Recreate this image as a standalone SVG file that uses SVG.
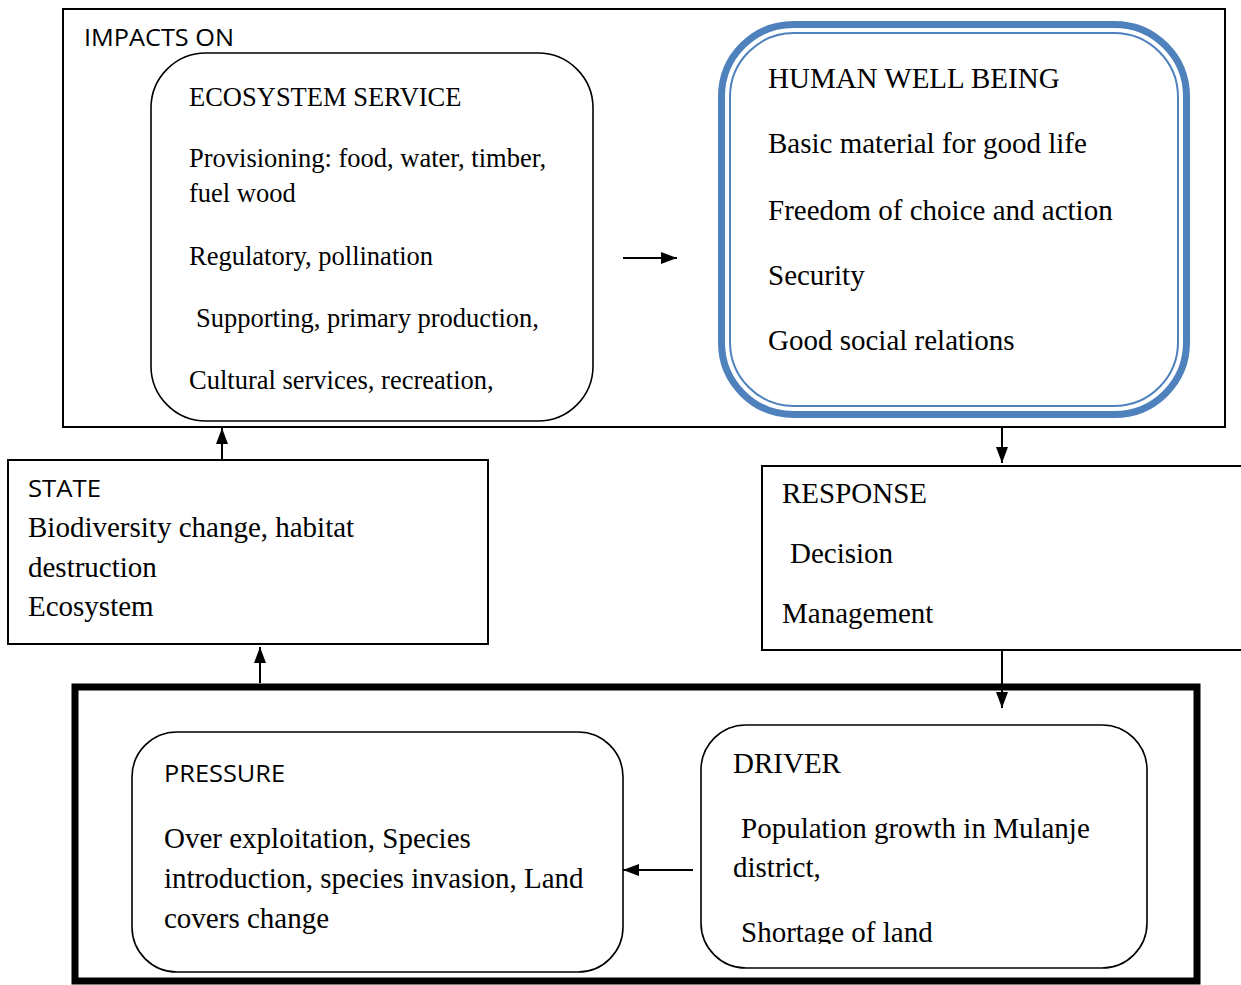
<svg xmlns="http://www.w3.org/2000/svg" width="1241" height="985" viewBox="0 0 1241 985">
<style>
.serif{font-family:"Liberation Serif","Times New Roman",serif;fill:#000}
.sans{font-family:"Open Sans","Liberation Sans",sans-serif;fill:#000;font-size:24px}
.box{fill:#fff;stroke:#000;stroke-width:2}
.rbox{fill:#fff;stroke:#000;stroke-width:1.6}
.conn{stroke:#000;stroke-width:2;fill:none}
</style>
<defs>
<marker id="ah" viewBox="0 0 16 12" refX="16" refY="6" markerWidth="16" markerHeight="12" markerUnits="userSpaceOnUse" orient="auto">
<path d="M0,0 L16,6 L0,12 z" fill="#000"/>
</marker>
<clipPath id="clipShort"><rect x="700" y="900" width="450" height="44"/></clipPath>
</defs>
<rect width="1241" height="985" fill="#fff"/>

<g id="impacts">
<rect class="box" x="63" y="9" width="1162" height="418"/>
<text class="sans" x="84" y="46" textLength="150" lengthAdjust="spacingAndGlyphs">IMPACTS ON</text>
</g>

<g id="ecosystem">
<rect class="rbox" x="151" y="53" width="442" height="368" rx="55" ry="55"/>
<g class="serif" font-size="26.5">
<text x="189" y="106">ECOSYSTEM SERVICE</text>
<text x="189" y="167">Provisioning: food, water, timber,</text>
<text x="189" y="202">fuel wood</text>
<text x="189" y="265">Regulatory, pollination</text>
<text x="196" y="327">Supporting, primary production,</text>
<text x="189" y="389">Cultural services, recreation,</text>
</g>
</g>

<g id="wellbeing">
<rect x="721.5" y="24.5" width="465" height="390" rx="72" ry="72" fill="#fff" stroke="#4F81BD" stroke-width="7"/>
<rect x="730" y="33" width="448" height="373" rx="64" ry="64" fill="none" stroke="#4F81BD" stroke-width="2"/>
<g class="serif" font-size="29">
<text x="768" y="88">HUMAN WELL BEING</text>
<text x="768" y="153">Basic material for good life</text>
<text x="768" y="220">Freedom of choice and action</text>
<text x="768" y="285">Security</text>
<text x="768" y="350">Good social relations</text>
</g>
</g>

<g id="state">
<rect class="box" x="8" y="460" width="480" height="184"/>
<text class="sans" x="28" y="497" textLength="73" lengthAdjust="spacingAndGlyphs">STATE</text>
<g class="serif" font-size="29">
<text x="28" y="537">Biodiversity change, habitat</text>
<text x="28" y="577">destruction</text>
<text x="28" y="616">Ecosystem</text>
</g>
</g>

<g id="response">
<rect class="box" x="762" y="466" width="490" height="184"/>
<g class="serif" font-size="29">
<text x="782" y="503">RESPONSE</text>
<text x="790" y="563">Decision</text>
<text x="782" y="623">Management</text>
</g>
</g>

<g id="bottomframe">
<rect x="75" y="687" width="1122" height="294" fill="none" stroke="#000" stroke-width="7"/>
</g>

<g id="pressure">
<rect class="rbox" x="132" y="732" width="491" height="240" rx="45" ry="45"/>
<text class="sans" x="164" y="782" textLength="121" lengthAdjust="spacingAndGlyphs">PRESSURE</text>
<g class="serif" font-size="29">
<text x="164" y="848">Over exploitation, Species</text>
<text x="164" y="888">introduction, species invasion, Land</text>
<text x="164" y="928">covers change</text>
</g>
</g>

<g id="driver">
<rect class="rbox" x="701" y="725" width="446" height="243" rx="45" ry="45"/>
<g class="serif" font-size="29">
<text x="733" y="773">DRIVER</text>
<text x="741" y="838">Population growth in Mulanje</text>
<text x="733" y="877">district,</text>
<text x="741" y="942" clip-path="url(#clipShort)">Shortage of land</text>
</g>
</g>

<g id="connectors">
<path class="conn" d="M222,460 L222,428" marker-end="url(#ah)"/>
<path class="conn" d="M260,683 L260,647" marker-end="url(#ah)"/>
<path class="conn" d="M1002,428 L1002,463" marker-end="url(#ah)"/>
<path class="conn" d="M1002,650 L1002,708" marker-end="url(#ah)"/>
<path class="conn" d="M693,870 L623,870" marker-end="url(#ah)"/>
<path class="conn" d="M623,258 L677,258" marker-end="url(#ah)"/>
</g>
</svg>
